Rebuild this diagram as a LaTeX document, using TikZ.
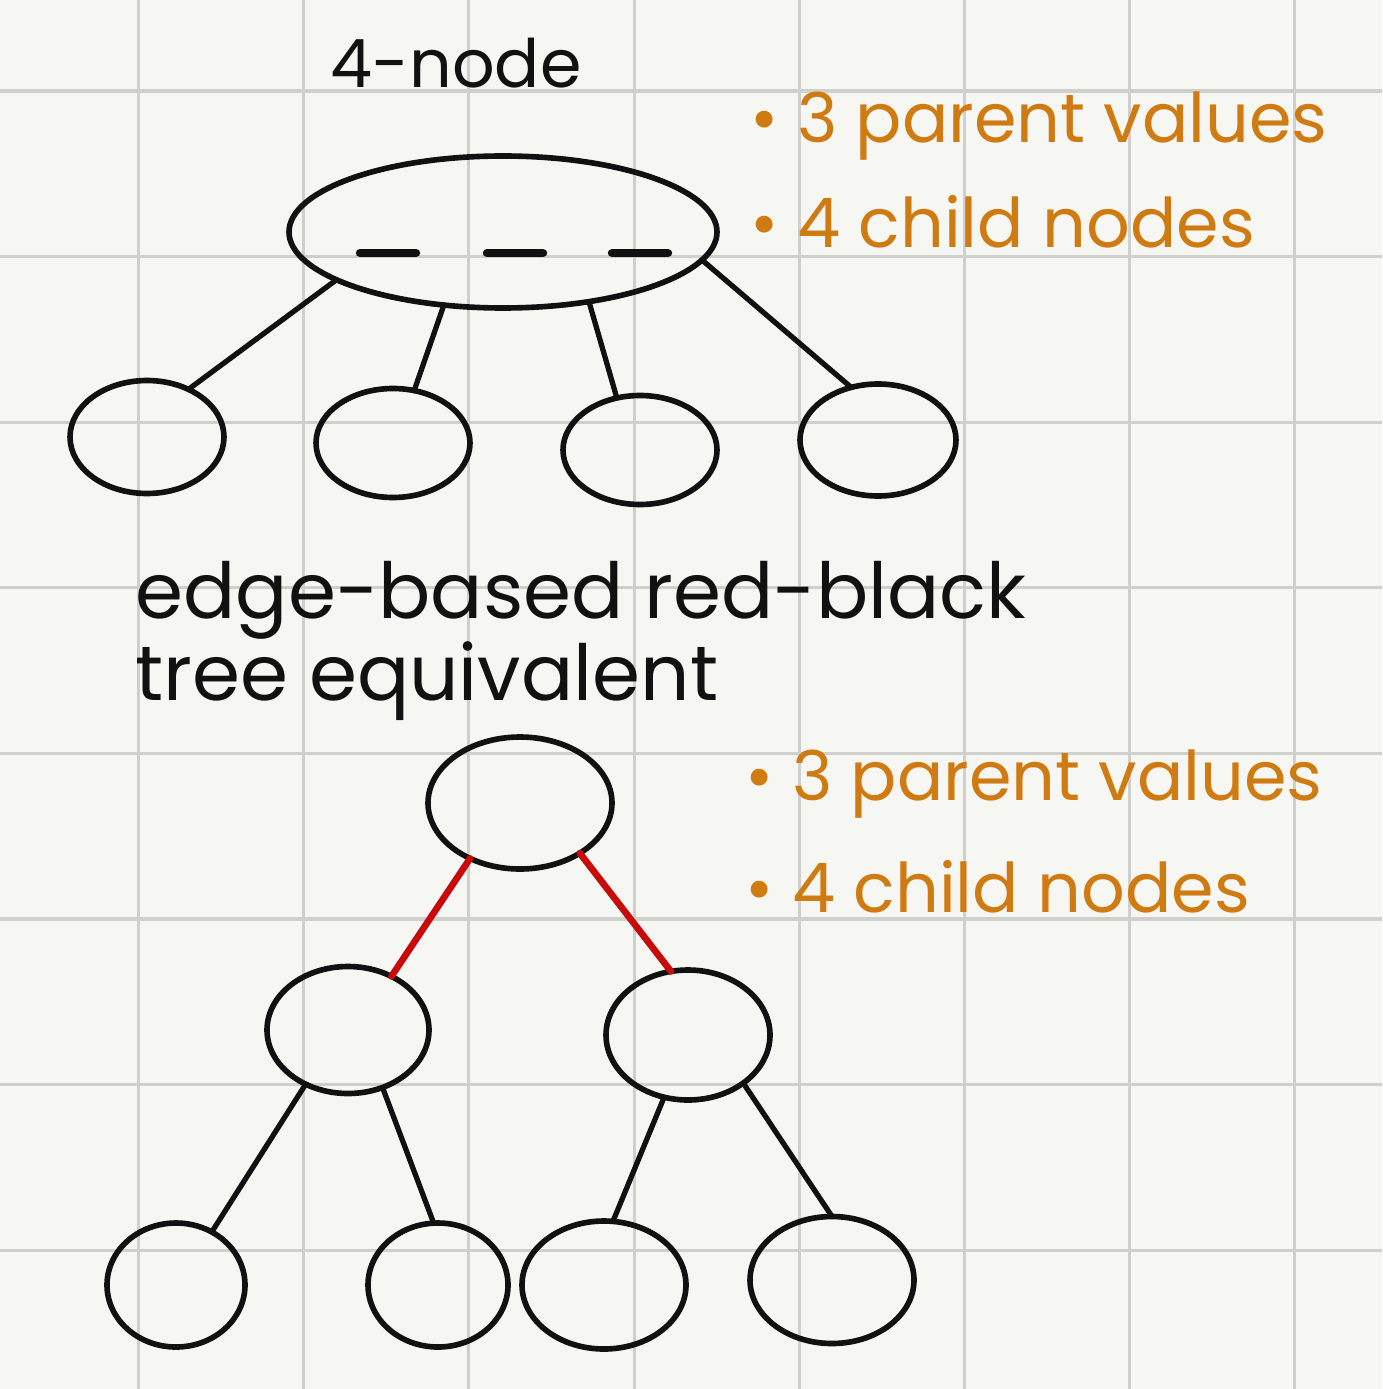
\documentclass[tikz,border=0pt]{standalone}
\usepackage{fontspec}
\setmainfont{Poppins}
\usetikzlibrary{shapes.geometric}
\definecolor{paperc}{HTML}{F6F6F2}
\definecolor{gridc}{HTML}{CFCFCB}
\definecolor{inkc}{HTML}{111111}
\definecolor{notec}{HTML}{D07A12}
\definecolor{redc}{HTML}{C80A0A}

\begin{document}
\begin{tikzpicture}[
    bubble/.style={draw=inkc,line width=1.6pt,ellipse,inner sep=0pt,outer sep=0pt},
    link/.style={inkc,line width=1.5pt,line cap=round},
    redlink/.style={redc,line width=1.9pt,line cap=round},
    slot/.style={inkc,line width=2.4pt,line cap=round},
    note/.style={text=notec,font=\fontsize{19.5}{24}\selectfont,anchor=base west,inner sep=0pt},
    heading/.style={text=inkc,font=\fontsize{22}{26}\selectfont,anchor=base west,inner sep=0pt},
  ]
  \fill[paperc] (0,0) rectangle (13.82,-13.89);
  \useasboundingbox (0,0) rectangle (13.82,-13.89);
  % squared paper
  \foreach \k in {0,...,7} {
    \draw[gridc,line width=0.9pt] ({1.385+1.652*\k},0) -- ({1.385+1.652*\k},-13.89);
    \draw[gridc,line width=0.9pt] (0,{-0.91-1.656*\k}) -- (13.82,{-0.91-1.656*\k});
  }

  % 4-node
  \node[heading,font=\fontsize{19}{24}\selectfont] (fourlbl) at (3.30,-0.88) {4-node};
  \node[bubble,minimum width=4.28cm,minimum height=1.52cm] (four) at (5.03,-2.32) {};
  \foreach \x in {3.60,4.87,6.12} {
    \draw[slot] (\x,-2.53) -- ++(0.56,0);
  }
  \node[bubble,minimum width=1.54cm,minimum height=1.13cm] (c1) at (1.47,-4.37) {};
  \node[bubble,minimum width=1.54cm,minimum height=1.09cm] (c2) at (3.93,-4.43) {};
  \node[bubble,minimum width=1.54cm,minimum height=1.09cm] (c3) at (6.40,-4.50) {};
  \node[bubble,minimum width=1.56cm,minimum height=1.12cm] (c4) at (8.78,-4.40) {};
  \draw[link] (four.196) -- (c1.49);
  \draw[link] (four.231) -- (c2.68);
  \draw[link] (four.321) -- (c3.114);
  \draw[link] (four.352) -- (c4.117);
  \node[note] (topa) at (7.50,-1.43) {\textbullet\ 3 parent values};
  \node[note] (topb) at (7.50,-2.48) {\textbullet\ 4 child nodes};

  % red-black version
  \node[heading] (rblbla) at (1.35,-6.18) {edge-based red-black};
  \node[heading] (rblblb) at (1.35,-7.00) {tree equivalent};
  \node[bubble,minimum width=1.84cm,minimum height=1.32cm] (root) at (5.20,-8.03) {};
  \node[bubble,minimum width=1.62cm,minimum height=1.27cm] (ml) at (3.48,-10.30) {};
  \node[bubble,minimum width=1.64cm,minimum height=1.30cm] (mr) at (6.88,-10.35) {};
  \node[bubble,minimum width=1.38cm,minimum height=1.24cm] (l1) at (1.76,-12.85) {};
  \node[bubble,minimum width=1.40cm,minimum height=1.24cm] (l2) at (4.38,-12.85) {};
  \node[bubble,minimum width=1.64cm,minimum height=1.28cm] (l3) at (6.04,-12.85) {};
  \node[bubble,minimum width=1.64cm,minimum height=1.27cm] (l4) at (8.32,-12.80) {};
  \draw[redlink] (root.228) -- (ml.51);
  \draw[redlink] (root.320) -- (mr.105);
  \draw[link] (ml.232) -- (l1.56);
  \draw[link] (ml.301) -- (l2.94);
  \draw[link] (mr.249) -- (l3.82);
  \draw[link] (mr.319) -- (l4.90);
  \node[note] (bota) at (7.45,-8.00) {\textbullet\ 3 parent values};
  \node[note] (botb) at (7.45,-9.12) {\textbullet\ 4 child nodes};
\end{tikzpicture}
\end{document}
